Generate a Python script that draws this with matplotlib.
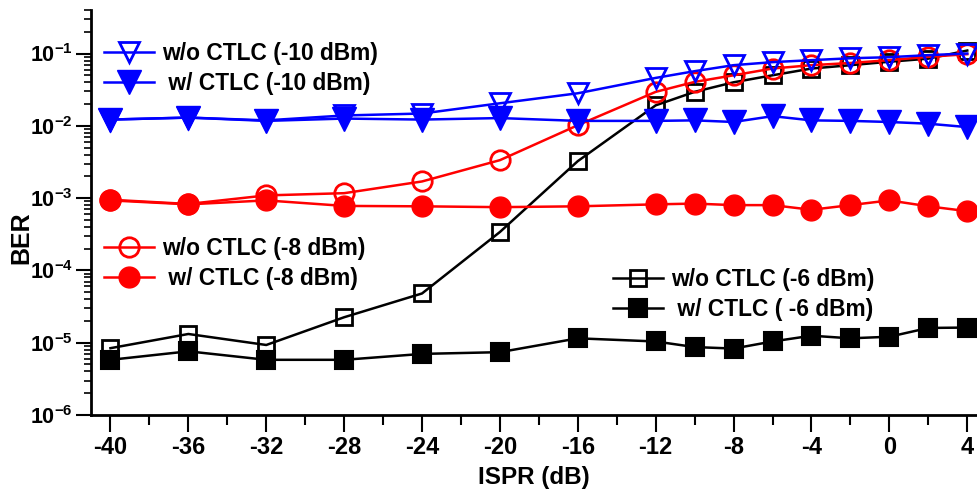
import math
import matplotlib
matplotlib.use("Agg")
import matplotlib.pyplot as plt
from matplotlib.ticker import FixedLocator, FuncFormatter, LogLocator, NullFormatter

plt.rcParams['font.family'] = ['Liberation Sans', 'DejaVu Sans']
plt.rcParams['font.weight'] = 'bold'
plt.rcParams['mathtext.fontset'] = 'custom'
plt.rcParams['mathtext.bf'] = 'Liberation Sans:bold'
plt.rcParams['mathtext.rm'] = 'Liberation Sans:bold'

ispr = [-40, -36, -32, -28, -24, -20, -16, -12, -10, -8, -6, -4, -2, 0, 2, 4]

wo_m6 = [8.4e-6, 1.32e-5, 9.3e-6, 2.25e-5, 4.8e-5, 3.4e-4, 3.25e-3, 0.0192,
         0.0295, 0.040, 0.050, 0.062, 0.069, 0.077, 0.085, 0.11]
w_m6 = [5.8e-6, 7.6e-6, 5.8e-6, 5.8e-6, 7.0e-6, 7.4e-6, 1.15e-5, 1.04e-5,
        8.7e-6, 8.3e-6, 1.04e-5, 1.25e-5, 1.15e-5, 1.21e-5, 1.6e-5, 1.62e-5]
wo_m8 = [9.5e-4, 8.3e-4, 1.09e-3, 1.17e-3, 1.7e-3, 3.35e-3, 0.0102, 0.0295,
         0.0405, 0.050, 0.062, 0.069, 0.074, 0.081, 0.090, 0.098]
w_m8 = [9.3e-4, 8.2e-4, 9.3e-4, 7.8e-4, 7.7e-4, 7.5e-4, 7.7e-4, 8.2e-4,
        8.4e-4, 8.0e-4, 8.0e-4, 6.9e-4, 8.0e-4, 9.3e-4, 7.7e-4, 6.6e-4]
wo_m10 = [0.0122, 0.0130, 0.0119, 0.0139, 0.0148, 0.0205, 0.0282, 0.046,
          0.057, 0.069, 0.076, 0.081, 0.086, 0.089, 0.095, 0.100]
w_m10 = [0.0122, 0.0130, 0.0117, 0.0126, 0.0122, 0.0128, 0.0117, 0.0117,
         0.0119, 0.0113, 0.0136, 0.0119, 0.0117, 0.0113, 0.0107, 0.0096]

labels = ['w/o CTLC (-6 dBm)', ' w/ CTLC ( -6 dBm)',
          'w/o CTLC (-8 dBm)', ' w/ CTLC (-8 dBm)',
          'w/o CTLC (-10 dBm)', ' w/ CTLC (-10 dBm)']

xticks = [-40, -36, -32, -28, -24, -20, -16, -12, -8, -4, 0, 4]

fig = plt.figure(figsize=(9.77, 4.9), dpi=100)
ax = fig.add_axes([91/977, 1-415/490, 1-91/977, (415-10)/490])

lw = 1.8
l1, = ax.plot(ispr, wo_m6, color='black', lw=lw, marker='s', ms=12, mfc='none', mew=2)
l2, = ax.plot(ispr, w_m6, color='black', lw=lw, marker='s', ms=13, mfc='black', mew=1.5)
l3, = ax.plot(ispr, wo_m8, color='red', lw=lw, marker='o', ms=14, mfc='none', mew=2)
l4, = ax.plot(ispr, w_m8, color='red', lw=lw, marker='o', ms=15, mfc='red', mew=1)
l5, = ax.plot(ispr, wo_m10, color='blue', lw=lw, marker='v', ms=15, mfc='none', mew=2)
l6, = ax.plot(ispr, w_m10, color='blue', lw=lw, marker='v', ms=17, mfc='blue', mew=1)

ax.set_yscale('log')
ax.set_xlim(-41, 4.5)
ax.set_ylim(1e-6, 0.4)

ax.xaxis.set_major_locator(FixedLocator(xticks))
ax.xaxis.set_minor_locator(FixedLocator([t + 2 for t in xticks[:-1]]))
ax.set_xticklabels([str(t) for t in xticks])
ax.yaxis.set_major_locator(LogLocator(base=10, numticks=20))
ax.yaxis.set_minor_locator(LogLocator(base=10, subs=range(2, 10), numticks=50))
ax.yaxis.set_minor_formatter(NullFormatter())
ax.yaxis.set_major_formatter(FuncFormatter(lambda v, p: r'$\mathbf{10^{%d}}$' % round(math.log10(v))))

for s in ['top', 'right']:
    ax.spines[s].set_visible(False)
for s in ['left', 'bottom']:
    ax.spines[s].set_linewidth(2)

ax.tick_params(axis='x', which='major', length=12, width=1.5, labelsize=17, pad=3)
ax.tick_params(axis='x', which='minor', length=7, width=1.5)
ax.tick_params(axis='y', which='major', length=11, width=1.5, labelsize=15.5, pad=2)
ax.tick_params(axis='y', which='minor', length=5, width=1.2)

ax.set_xlabel('ISPR (dB)', fontsize=17.5, fontweight='bold', labelpad=5)
ax.set_ylabel('BER', fontsize=18, fontweight='bold')
ax.yaxis.set_label_coords((33-91)/886, (415-238)/405)

legkw = dict(frameon=False, fontsize=16.4, handlelength=2.2, handletextpad=0.35,
             labelspacing=0.3, borderpad=0, borderaxespad=0, loc='upper left')
fig_tr = fig.transFigure
leg1 = ax.legend([l5, l6], labels[4:6], bbox_to_anchor=(104/977, 1-42/490), bbox_transform=fig_tr, **legkw)
ax.add_artist(leg1)
leg2 = ax.legend([l3, l4], labels[2:4], bbox_to_anchor=(104/977, 1-237/490), bbox_transform=fig_tr, **legkw)
ax.add_artist(leg2)
leg3 = ax.legend([l1, l2], labels[0:2], bbox_to_anchor=(613/977, 1-268/490), bbox_transform=fig_tr, **legkw)

fig.savefig('out.png', dpi=100)
